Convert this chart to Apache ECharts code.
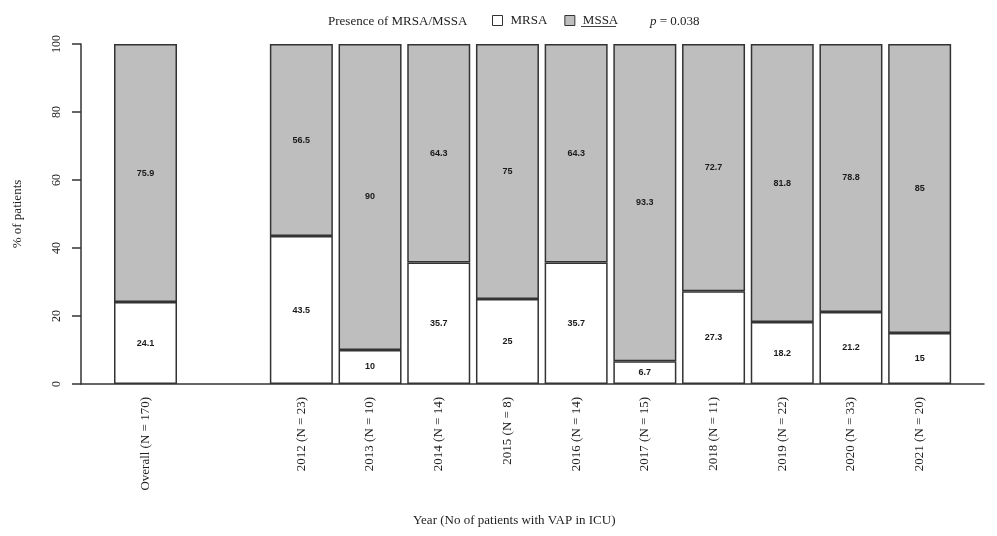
<!DOCTYPE html>
<html>
<head>
<meta charset="utf-8">
<script src="https://cdn.jsdelivr.net/npm/echarts@6/dist/echarts.min.js"></script>
<style>html,body{margin:0;padding:0;background:#fff;}#c{width:997px;height:536px;}</style>
</head>
<body>
<div id="c"></div>
<script>
var overallCategories = ['Overall (N = 170)'];
var overallMRSA = [24.1];
var overallMSSA = [75.9];
var yearCategories = ['2012 (N = 23)', '2013 (N = 10)', '2014 (N = 14)', '2015 (N = 8)', '2016 (N = 14)',
  '2017 (N = 15)', '2018 (N = 11)', '2019 (N = 22)', '2020 (N = 33)', '2021 (N = 20)'];
var yearMRSA = [43.5, 10, 35.7, 25, 35.7, 6.7, 27.3, 18.2, 21.2, 15];
var yearMSSA = [56.5, 90, 64.3, 75, 64.3, 93.3, 72.7, 81.8, 78.8, 85];
var yTicks = [0, 20, 40, 60, 80, 100];

var SERIF = '"Liberation Serif", "Times New Roman", serif';
var SANS = '"Liberation Sans", Arial, sans-serif';
var chart = echarts.init(document.getElementById('c'), null, {renderer: 'canvas'});

function hiddenY(idx) {
  return {type: 'value', gridIndex: idx, min: 0, max: 100, interval: 20, show: false};
}
function catX(idx, cats) {
  return {
    type: 'category', gridIndex: idx, data: cats,
    axisLine: {show: false}, axisTick: {show: false},
    axisLabel: {rotate: 90, margin: 13, fontFamily: SERIF, fontSize: 13, color: '#222', interval: 0}
  };
}
var labelStyle = {show: true, position: 'inside', fontFamily: SANS, fontWeight: 'bold', fontSize: 9, color: '#1a1a1a',
  formatter: function (p) { return p.value; }};
var whiteStyle = {color: '#ffffff', borderColor: '#333', borderWidth: 1.5};
var grayStyle = {color: '#bebebe', borderColor: '#333', borderWidth: 1.5};

var option = {
  backgroundColor: '#ffffff',
  animation: false,
  title: [
    {text: 'Presence of MRSA/MSSA', left: 323, top: 10,
      textStyle: {fontFamily: SERIF, fontSize: 13, fontWeight: 'normal', color: '#222'}},
    {text: '{i|p} = 0.038', left: 645, top: 10,
      textStyle: {fontFamily: SERIF, fontSize: 13, fontWeight: 'normal', color: '#222',
        rich: {i: {fontFamily: SERIF, fontSize: 13, fontStyle: 'italic', color: '#222'}}}},
    {text: 'Year (No of patients with VAP in ICU)', left: 408, top: 509,
      textStyle: {fontFamily: SERIF, fontSize: 13, fontWeight: 'normal', color: '#222'}}
  ],
  legend: {
    data: ['MRSA', 'MSSA'], left: 492, top: 14, padding: 0, icon: 'rect', itemWidth: 10, itemHeight: 10, itemGap: 17,
    itemStyle: {borderWidth: 1, borderColor: '#333'},
    textStyle: {fontFamily: SERIF, fontSize: 13, color: '#222', padding: [0, 0, 0, 3]}
  },
  graphic: [
    {type: 'line', shape: {x1: 581, y1: 26.5, x2: 616, y2: 26.5}, style: {stroke: '#444', lineWidth: 1}, silent: true}
  ],
  grid: [
    {left: 81, top: 44, width: 903, height: 340},
    {left: 81, top: 44, width: 129, height: 340},
    {left: 267, top: 44, width: 687, height: 340}
  ],
  xAxis: [
    {type: 'value', gridIndex: 0, min: 0, max: 1, axisLine: {show: true, lineStyle: {color: '#333', width: 1.5}},
      axisTick: {show: false}, axisLabel: {show: false}, splitLine: {show: false}},
    catX(1, overallCategories),
    catX(2, yearCategories)
  ],
  yAxis: [
    {type: 'value', gridIndex: 0, min: 0, max: 100, interval: 20,
      axisLine: {show: true, lineStyle: {color: '#333', width: 1.5}},
      axisTick: {show: true, length: 9, lineStyle: {color: '#333', width: 1.5}},
      axisLabel: {rotate: 90, margin: 18, fontFamily: SERIF, fontSize: 12, color: '#222',
        formatter: function (v) { return yTicks.indexOf(v) >= 0 ? String(v) : ''; }},
      splitLine: {show: false},
      name: '% of patients', nameLocation: 'middle', nameGap: 57, nameRotate: 90,
      nameTextStyle: {fontFamily: SERIF, fontSize: 13, color: '#222'}},
    hiddenY(1),
    hiddenY(2)
  ],
  series: [
    {name: 'MRSA', type: 'bar', xAxisIndex: 1, yAxisIndex: 1, stack: 'o', barWidth: 63,
      data: overallMRSA, itemStyle: whiteStyle, label: labelStyle},
    {name: 'MSSA', type: 'bar', xAxisIndex: 1, yAxisIndex: 1, stack: 'o', barWidth: 63,
      data: overallMSSA, itemStyle: grayStyle, label: labelStyle},
    {name: 'MRSA', type: 'bar', xAxisIndex: 2, yAxisIndex: 2, stack: 'y', barWidth: 63,
      data: yearMRSA, itemStyle: whiteStyle, label: labelStyle},
    {name: 'MSSA', type: 'bar', xAxisIndex: 2, yAxisIndex: 2, stack: 'y', barWidth: 63,
      data: yearMSSA, itemStyle: grayStyle, label: labelStyle}
  ]
};
chart.setOption(option);
</script>
</body>
</html>
